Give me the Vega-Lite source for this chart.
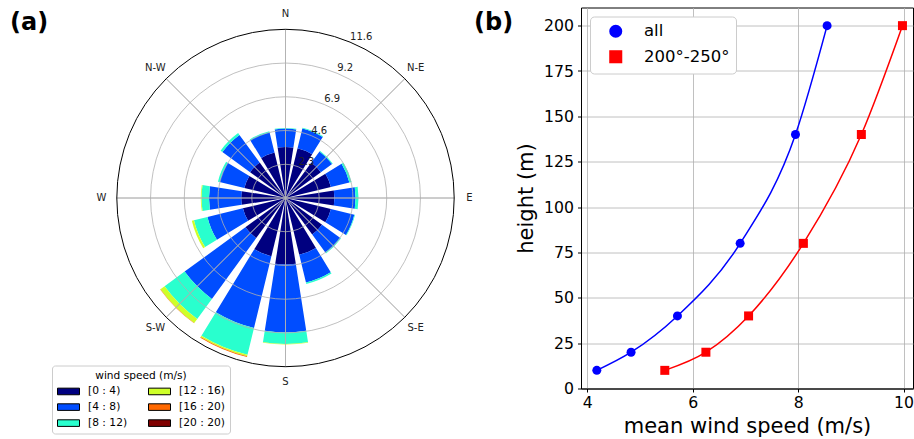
{
  "$schema": "https://vega.github.io/schema/vega-lite/v6.json",
  "padding": {"left": 0, "top": 6.5, "right": 0, "bottom": 0},
  "bounds": "flush",
  "spacing": 10,
  "resolve": {"scale": {"color": "independent", "shape": "independent"}, "legend": {"color": "independent", "shape": "independent"}},
  "config": {
    "font": "DejaVu Sans",
    "view": {"stroke": null},
    "axis": {
      "labelFont": "DejaVu Sans", "titleFont": "DejaVu Sans",
      "labelColor": "black", "titleColor": "black",
      "domainColor": "black", "tickColor": "black",
      "gridColor": "#b0b0b0", "gridWidth": 0.8,
      "labelFontSize": 15.7, "titleFontSize": 21, "titleFontWeight": "normal",
      "tickSize": 3.5, "domainWidth": 1, "tickWidth": 1
    },
    "legend": {"labelFont": "DejaVu Sans", "titleFont": "DejaVu Sans", "labelColor": "black", "titleColor": "black"}
  },
  "hconcat": [
    {
      "width": 571,
      "height": 381,
      "view": {"stroke": null},
      "title": {"text": "(a)", "orient": "top", "anchor": "start", "frame": "group", "offset": -46, "baseline": "alphabetic", "dx": 10, "fontSize": 24, "fontWeight": "bold", "font": "DejaVu Sans", "color": "black"},
      "layer": [
        {
          "data": {"values": [
            {"dir": 0, "bin": 0, "speed": "[0 : 4)", "freq": 3.5},
            {"dir": 0, "bin": 1, "speed": "[4 : 8)", "freq": 1.25},
            {"dir": 0, "bin": 2, "speed": "[8 : 12)", "freq": 0.05},
            {"dir": 22.5, "bin": 0, "speed": "[0 : 4)", "freq": 3.5},
            {"dir": 22.5, "bin": 1, "speed": "[4 : 8)", "freq": 1.4},
            {"dir": 22.5, "bin": 2, "speed": "[8 : 12)", "freq": 0.05},
            {"dir": 45, "bin": 0, "speed": "[0 : 4)", "freq": 3.0},
            {"dir": 45, "bin": 1, "speed": "[4 : 8)", "freq": 0.95},
            {"dir": 45, "bin": 2, "speed": "[8 : 12)", "freq": 0.05},
            {"dir": 67.5, "bin": 0, "speed": "[0 : 4)", "freq": 3.2},
            {"dir": 67.5, "bin": 1, "speed": "[4 : 8)", "freq": 1.3},
            {"dir": 67.5, "bin": 2, "speed": "[8 : 12)", "freq": 0.15},
            {"dir": 90, "bin": 0, "speed": "[0 : 4)", "freq": 3.35},
            {"dir": 90, "bin": 1, "speed": "[4 : 8)", "freq": 1.45},
            {"dir": 90, "bin": 2, "speed": "[8 : 12)", "freq": 0.2},
            {"dir": 112.5, "bin": 0, "speed": "[0 : 4)", "freq": 3.2},
            {"dir": 112.5, "bin": 1, "speed": "[4 : 8)", "freq": 1.65},
            {"dir": 112.5, "bin": 2, "speed": "[8 : 12)", "freq": 0.05},
            {"dir": 135, "bin": 0, "speed": "[0 : 4)", "freq": 3.1},
            {"dir": 135, "bin": 1, "speed": "[4 : 8)", "freq": 1.55},
            {"dir": 135, "bin": 2, "speed": "[8 : 12)", "freq": 0.05},
            {"dir": 157.5, "bin": 0, "speed": "[0 : 4)", "freq": 4.0},
            {"dir": 157.5, "bin": 1, "speed": "[4 : 8)", "freq": 1.95},
            {"dir": 157.5, "bin": 2, "speed": "[8 : 12)", "freq": 0.1},
            {"dir": 180, "bin": 0, "speed": "[0 : 4)", "freq": 4.56},
            {"dir": 180, "bin": 1, "speed": "[4 : 8)", "freq": 4.64},
            {"dir": 180, "bin": 2, "speed": "[8 : 12)", "freq": 0.8},
            {"dir": 180, "bin": 3, "speed": "[12 : 16)", "freq": 0.03},
            {"dir": 202.5, "bin": 0, "speed": "[0 : 4)", "freq": 4.1},
            {"dir": 202.5, "bin": 1, "speed": "[4 : 8)", "freq": 5.06},
            {"dir": 202.5, "bin": 2, "speed": "[8 : 12)", "freq": 1.89},
            {"dir": 202.5, "bin": 3, "speed": "[12 : 16)", "freq": 0.1},
            {"dir": 202.5, "bin": 4, "speed": "[16 : 20)", "freq": 0.05},
            {"dir": 225, "bin": 0, "speed": "[0 : 4)", "freq": 3.4},
            {"dir": 225, "bin": 1, "speed": "[4 : 8)", "freq": 5.15},
            {"dir": 225, "bin": 2, "speed": "[8 : 12)", "freq": 1.7},
            {"dir": 225, "bin": 3, "speed": "[12 : 16)", "freq": 0.35},
            {"dir": 225, "bin": 4, "speed": "[16 : 20)", "freq": 0.02},
            {"dir": 247.5, "bin": 0, "speed": "[0 : 4)", "freq": 3.0},
            {"dir": 247.5, "bin": 1, "speed": "[4 : 8)", "freq": 2.5},
            {"dir": 247.5, "bin": 2, "speed": "[8 : 12)", "freq": 0.95},
            {"dir": 247.5, "bin": 3, "speed": "[12 : 16)", "freq": 0.15},
            {"dir": 270, "bin": 0, "speed": "[0 : 4)", "freq": 3.03},
            {"dir": 270, "bin": 1, "speed": "[4 : 8)", "freq": 2.21},
            {"dir": 270, "bin": 2, "speed": "[8 : 12)", "freq": 0.51},
            {"dir": 270, "bin": 3, "speed": "[12 : 16)", "freq": 0.05},
            {"dir": 292.5, "bin": 0, "speed": "[0 : 4)", "freq": 2.9},
            {"dir": 292.5, "bin": 1, "speed": "[4 : 8)", "freq": 1.75},
            {"dir": 292.5, "bin": 2, "speed": "[8 : 12)", "freq": 0.11},
            {"dir": 315, "bin": 0, "speed": "[0 : 4)", "freq": 3.0},
            {"dir": 315, "bin": 1, "speed": "[4 : 8)", "freq": 2.35},
            {"dir": 315, "bin": 2, "speed": "[8 : 12)", "freq": 0.15},
            {"dir": 337.5, "bin": 0, "speed": "[0 : 4)", "freq": 3.2},
            {"dir": 337.5, "bin": 1, "speed": "[4 : 8)", "freq": 1.44},
            {"dir": 337.5, "bin": 2, "speed": "[8 : 12)", "freq": 0.06}
          ]},
          "mark": {"type": "arc", "thetaOffset": -0.155, "theta2Offset": 0.155},
          "encoding": {
            "theta": {"field": "dir", "type": "quantitative", "stack": null, "scale": {"domain": [0, 360], "range": [0, 6.283185]}},
            "theta2": {"field": "dir"},
            "radius": {"field": "freq", "type": "quantitative", "stack": "zero", "scale": {"type": "linear", "domain": [0, 11.55], "range": [0, 168.7], "zero": true, "nice": false}},
            "order": {"field": "bin", "type": "quantitative"},
            "color": {
              "field": "speed", "type": "nominal",
              "scale": {
                "domain": ["[0 : 4)", "[4 : 8)", "[8 : 12)", "[12 : 16)", "[16 : 20)", "[20 : 20)"],
                "range": ["#000080", "#004dff", "#29ffce", "#ceff29", "#ff6800", "#800000"]
              },
              "legend": {
                "orient": "none", "legendX": 52, "legendY": 358,
                "columns": 2, "title": "wind speed (m/s)", "titleAnchor": "middle", "titleAlign": "center",
                "titleFontSize": 10.6, "titleFontWeight": "normal", "titlePadding": 4,
                "labelFontSize": 10.7, "labelOffset": 13.5,
                "symbolType": "M-2,-0.6H2V0.6H-2Z", "symbolSize": 121,
                "symbolStrokeColor": "black", "symbolStrokeWidth": 1, "symbolOpacity": 1,
                "symbolOffset": 5.5,
                "strokeColor": "#cccccc", "fillColor": "white", "cornerRadius": 3,
                "padding": 5, "columnPadding": 18, "rowPadding": 4
              }
            }
          }
        },
        {
          "data": {"values": [{"r": 2.31}, {"r": 4.62}, {"r": 6.93}, {"r": 9.24}]},
          "mark": {"type": "arc", "theta": 0, "theta2": 6.2832, "fillOpacity": 0, "stroke": "#b0b0b0", "strokeWidth": 0.8},
          "encoding": {
            "radius": {"field": "r", "type": "quantitative", "stack": null, "scale": {"type": "linear", "domain": [0, 11.55], "range": [0, 168.7], "zero": true, "nice": false}}
          }
        },
        {
          "data": {"values": [{"a": 0}, {"a": 45}, {"a": 90}, {"a": 135}, {"a": 180}, {"a": 225}, {"a": 270}, {"a": 315}]},
          "mark": {"type": "arc", "radius2": 0, "fillOpacity": 0, "stroke": "#b0b0b0", "strokeWidth": 0.8},
          "encoding": {
            "theta": {"field": "a", "type": "quantitative", "stack": null, "scale": {"domain": [0, 360], "range": [0, 6.283185]}},
            "theta2": {"field": "a"},
            "radius": {"datum": 11.55, "type": "quantitative", "stack": null, "scale": {"type": "linear", "domain": [0, 11.55], "range": [0, 168.7], "zero": true, "nice": false}}
          }
        },
        {
          "data": {"values": [{"r": 11.55}]},
          "mark": {"type": "arc", "theta": 0, "theta2": 6.2832, "fillOpacity": 0, "stroke": "black", "strokeWidth": 1},
          "encoding": {
            "radius": {"field": "r", "type": "quantitative", "stack": null, "scale": {"type": "linear", "domain": [0, 11.55], "range": [0, 168.7], "zero": true, "nice": false}}
          }
        },
        {
          "data": {"values": [{"r": 2.31, "label": "2.3"}, {"r": 4.62, "label": "4.6"}, {"r": 6.93, "label": "6.9"}, {"r": 9.24, "label": "9.2"}, {"r": 11.55, "label": "11.6"}]},
          "mark": {"type": "text", "align": "left", "baseline": "bottom", "fontSize": 10, "color": "#222222"},
          "encoding": {
            "theta": {"datum": 22.5, "type": "quantitative", "stack": null, "scale": {"domain": [0, 360], "range": [0, 6.283185]}},
            "radius": {"field": "r", "type": "quantitative", "stack": null, "scale": {"type": "linear", "domain": [0, 11.55], "range": [0, 168.7], "zero": true, "nice": false}},
            "text": {"field": "label"}
          }
        },
        {
          "data": {"values": [{"a": 0, "t": "N"}, {"a": 45, "t": "N-E"}, {"a": 90, "t": "E"}, {"a": 135, "t": "S-E"}, {"a": 180, "t": "S"}, {"a": 225, "t": "S-W"}, {"a": 270, "t": "W"}, {"a": 315, "t": "N-W"}]},
          "mark": {"type": "text", "radius": 184, "align": "center", "baseline": "middle", "fontSize": 10, "color": "#222222"},
          "encoding": {
            "theta": {"field": "a", "type": "quantitative", "stack": null, "scale": {"domain": [0, 360], "range": [0, 6.283185]}},
            "text": {"field": "t"}
          }
        }
      ]
    },
    {
      "width": 332,
      "height": 381,
      "view": {"stroke": "black", "strokeWidth": 1},
      "title": {"text": "(b)", "orient": "top", "anchor": "start", "frame": "group", "offset": -46, "baseline": "alphabetic", "dx": -107, "fontSize": 24, "fontWeight": "bold", "font": "DejaVu Sans", "color": "black"},
      "data": {"values": [
        {"series": "all", "speed": 4.18, "height": 10},
        {"series": "all", "speed": 4.83, "height": 20},
        {"series": "all", "speed": 5.71, "height": 40},
        {"series": "all", "speed": 6.90, "height": 80},
        {"series": "all", "speed": 7.95, "height": 140},
        {"series": "all", "speed": 8.55, "height": 200},
        {"series": "200°-250°", "speed": 5.47, "height": 10},
        {"series": "200°-250°", "speed": 6.25, "height": 20},
        {"series": "200°-250°", "speed": 7.06, "height": 40},
        {"series": "200°-250°", "speed": 8.10, "height": 80},
        {"series": "200°-250°", "speed": 9.20, "height": 140},
        {"series": "200°-250°", "speed": 9.98, "height": 200}
      ]},
      "encoding": {
        "x": {"field": "speed", "type": "quantitative", "scale": {"domain": [3.88, 10.18], "nice": false, "zero": false},
              "axis": {"values": [4, 6, 8, 10], "title": "mean wind speed (m/s)", "labelPadding": 3.5, "titlePadding": 5, "grid": true}},
        "y": {"field": "height", "type": "quantitative", "scale": {"domain": [0, 210], "nice": false, "zero": false},
              "axis": {"values": [0, 25, 50, 75, 100, 125, 150, 175, 200], "title": "height (m)", "labelPadding": 4, "titlePadding": 7, "grid": true}}
      },
      "layer": [
        {
          "mark": {"type": "line", "interpolate": "monotone", "strokeWidth": 1.5},
          "encoding": {
            "stroke": {"field": "series", "type": "nominal", "scale": {"domain": ["all", "200°-250°"], "range": ["#0000ff", "#ff0000"]}, "legend": null}
          }
        },
        {
          "mark": {"type": "point", "filled": true, "size": 81, "opacity": 1},
          "encoding": {
            "color": {"field": "series", "type": "nominal", "scale": {"domain": ["all", "200°-250°"], "range": ["#0000ff", "#ff0000"]},
              "legend": {"title": null, "orient": "top-left", "offset": 8.5, "labelFontSize": 16.5, "symbolSize": 170, "symbolOpacity": 1,
                "padding": 6.5, "symbolOffset": 11, "labelOffset": 20, "rowPadding": 5.5,
                "strokeColor": "#cccccc", "fillColor": "white", "cornerRadius": 4}},
            "shape": {"field": "series", "type": "nominal", "scale": {"domain": ["all", "200°-250°"], "range": ["circle", "square"]}}
          }
        }
      ]
    }
  ]
}
